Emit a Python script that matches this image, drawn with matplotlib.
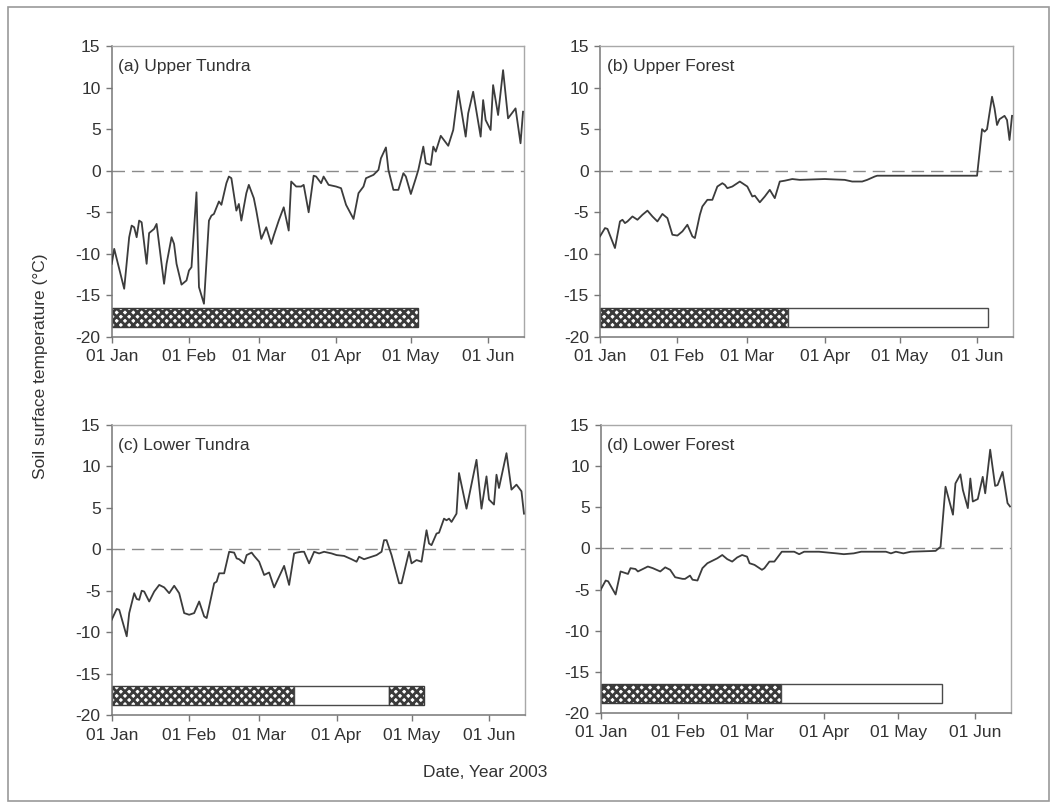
import numpy as np
import matplotlib
matplotlib.use("Agg")
import matplotlib.pyplot as plt
from matplotlib.patches import Rectangle

plt.rcParams['font.family'] = ['Liberation Sans', 'DejaVu Sans']
plt.rcParams['hatch.linewidth'] = 2.0
plt.rcParams['axes.unicode_minus'] = False

# days since 01 Jan 2003
month_days = [0, 31, 59, 90, 120, 151]
month_labels = ["01 Jan", "01 Feb", "01 Mar", "01 Apr", "01 May", "01 Jun"]

# (a) Upper Tundra
ut_day = [0, 1, 5, 7, 8, 9, 10, 11, 12, 14, 15, 17, 18, 21, 22, 24, 25, 26, 28, 30,
          31, 32, 34, 35, 37, 39, 40, 41, 43, 44, 46, 47, 48, 50, 51, 52, 54, 55, 57, 58,
          60, 62, 64, 65, 67, 69, 71, 72, 74, 76, 77, 79, 81, 82, 84, 85, 87, 90, 92, 94,
          97, 99, 101, 102, 105, 107, 108, 110, 111, 113, 115, 117, 118, 120, 122, 123, 125, 126, 128, 129,
          130, 132, 135, 137, 139, 142, 143, 145, 148, 149, 150, 152, 153, 155, 157, 159, 162, 164, 165]
ut_temp = [-11.2, -9.4, -14.2, -8.0, -6.6, -6.8, -8.0, -6.0, -6.2, -11.2, -7.5, -7.0, -6.4, -13.6, -11.2, -8.0, -8.8, -11.2, -13.7, -13.2,
           -12.0, -11.6, -2.6, -14.0, -16.0, -6.0, -5.4, -5.2, -3.7, -4.1, -1.5, -0.7, -0.9, -4.8, -4.0, -6.0, -2.7, -1.7, -3.3, -4.8,
           -8.2, -6.8, -8.8, -7.8, -6.0, -4.4, -7.2, -1.3, -1.9, -1.9, -1.7, -5.0, -0.6, -0.7, -1.5, -0.7, -1.7, -1.9, -2.1, -4.1,
           -5.8, -2.7, -1.9, -0.9, -0.5, 0.1, 1.5, 2.8, 0.1, -2.3, -2.3, -0.3, -0.7, -2.8, -0.9, 0.1, 2.9, 0.9, 0.7, 2.9,
           2.3, 4.2, 3.0, 4.9, 9.6, 4.1, 6.9, 9.5, 4.1, 8.5, 6.1, 4.9, 10.3, 6.7, 12.1, 6.3, 7.5, 3.3, 7.1]

# (b) Upper Forest
uf_day = [0, 2, 3, 6, 8, 9, 10, 11, 13, 15, 17, 19, 21, 23, 25, 27, 29, 31, 33, 35,
          37, 38, 40, 41, 43, 45, 47, 49, 50, 51, 53, 56, 58, 59, 61, 62, 64, 66, 68, 70,
          72, 74, 77, 80, 90, 98, 101, 105, 107, 110, 111, 130, 151, 153, 154, 155, 157, 158, 159, 160,
          162, 163, 164, 165]
uf_temp = [-7.9, -6.9, -7.0, -9.3, -6.1, -5.9, -6.3, -6.1, -5.5, -5.9, -5.3, -4.8, -5.5, -6.1, -5.2, -5.7, -7.7, -7.8, -7.3, -6.5,
           -7.9, -8.1, -5.3, -4.3, -3.5, -3.5, -1.9, -1.5, -1.7, -2.1, -1.9, -1.3, -1.7, -1.9, -3.1, -3.0, -3.8, -3.1, -2.3, -3.3,
           -1.3, -1.2, -1.0, -1.1, -1.0, -1.1, -1.3, -1.3, -1.1, -0.7, -0.6, -0.6, -0.6, 5.0, 4.7, 5.0, 8.9, 7.5, 5.5, 6.2,
           6.6, 6.1, 3.7, 6.6]

# (c) Lower Tundra
lt_day = [0, 2, 3, 6, 7, 9, 10, 11, 12, 13, 15, 17, 19, 21, 23, 25, 27, 29, 31, 33,
          35, 37, 38, 41, 42, 43, 45, 47, 49, 50, 51, 53, 54, 56, 57, 59, 61, 63, 65, 67,
          69, 71, 73, 74, 76, 77, 79, 81, 83, 85, 88, 90, 93, 96, 98, 99, 101, 103, 106, 108,
          109, 110, 112, 115, 116, 119, 120, 122, 124, 126, 127, 128, 130, 131, 133, 134, 135, 136, 138, 139,
          142, 146, 148, 150, 151, 153, 154, 155, 158, 160, 162, 164, 165]
lt_temp = [-8.5, -7.2, -7.3, -10.5, -7.7, -5.3, -6.0, -6.1, -5.0, -5.1, -6.3, -5.1, -4.3, -4.6, -5.3, -4.4, -5.3, -7.7, -7.9, -7.7,
           -6.3, -8.1, -8.3, -4.1, -3.9, -2.9, -2.9, -0.3, -0.4, -1.1, -1.2, -1.7, -0.7, -0.4, -0.8, -1.5, -3.1, -2.8, -4.6, -3.3,
           -2.0, -4.3, -0.5, -0.4, -0.3, -0.3, -1.7, -0.3, -0.5, -0.3, -0.5, -0.7, -0.8, -1.2, -1.5, -0.9, -1.2, -1.0, -0.7, -0.3,
           1.1, 1.1, -0.7, -4.1, -4.1, -0.3, -1.7, -1.3, -1.5, 2.3, 0.7, 0.5, 1.9, 2.0, 3.7, 3.5, 3.7, 3.3, 4.3, 9.2,
           4.9, 10.8, 4.9, 8.8, 6.0, 5.4, 9.0, 7.4, 11.6, 7.2, 7.8, 7.0, 4.3]

# (d) Lower Forest
lf_day = [0, 2, 3, 6, 8, 9, 11, 12, 14, 15, 17, 19, 21, 24, 26, 28, 30, 33, 34, 36,
          37, 39, 41, 43, 45, 47, 49, 51, 53, 55, 57, 59, 60, 62, 65, 66, 68, 70, 73, 75,
          78, 80, 82, 88, 95, 98, 102, 105, 115, 117, 119, 122, 125, 135, 137, 139, 142, 143, 145, 146,
          148, 149, 150, 152, 154, 155, 157, 159, 160, 162, 164, 165]
lf_temp = [-5.0, -3.9, -4.0, -5.6, -2.8, -2.9, -3.1, -2.4, -2.5, -2.8, -2.5, -2.2, -2.4, -2.8, -2.3, -2.6, -3.5, -3.7, -3.7, -3.3,
           -3.8, -3.9, -2.4, -1.8, -1.5, -1.2, -0.8, -1.3, -1.6, -1.1, -0.8, -1.0, -1.8, -2.0, -2.6, -2.4, -1.6, -1.6, -0.4, -0.4,
           -0.4, -0.7, -0.4, -0.4, -0.6, -0.7, -0.6, -0.4, -0.4, -0.6, -0.4, -0.6, -0.4, -0.3, 0.2, 7.5, 4.1, 7.9, 9.0, 7.1,
           4.9, 8.5, 5.7, 6.0, 8.7, 6.7, 12.0, 7.6, 7.7, 9.3, 5.5, 5.1]

# snow-cover bars: (start day, end day, hatched?)
ut_bars = [(0, 123, True)]
uf_bars = [(0, 75.4, True), (75.4, 155.4, False)]
lt_bars = [(0, 72.8, True), (72.8, 110.9, False), (110.9, 124.9, True)]
lf_bars = [(0, 72.7, True), (72.7, 137.5, False)]

panels = [
    ("(a) Upper Tundra", ut_day, ut_temp, ut_bars, [0.1059, 0.5819, 0.3908, 0.3610]),
    ("(b) Upper Forest", uf_day, uf_temp, uf_bars, [0.5687, 0.5819, 0.3915, 0.3610]),
    ("(c) Lower Tundra", lt_day, lt_temp, lt_bars, [0.1059, 0.1129, 0.3917, 0.3598]),
    ("(d) Lower Forest", lf_day, lf_temp, lf_bars, [0.5694, 0.1154, 0.3889, 0.3573]),
]

fig = plt.figure(figsize=(10.55, 8.06), dpi=100)
fig.patch.set_facecolor("white")

txt = "#333333"
for title, days, temps, bars, pos in panels:
    ax = fig.add_axes(pos)
    ax.axhline(0, color="#8a8a8a", lw=1.0, ls=(0, (9, 5)), zorder=1)
    ax.plot(days, temps, color="#3c3c3c", lw=1.3, zorder=3)
    for start, end, hatched in bars:
        if hatched:
            ax.barh(-17.65, end - start, left=start, height=2.3, color="white",
                    edgecolor="#3a3a3a", hatch="xxxx", lw=1.0, zorder=2)
        else:
            ax.barh(-17.65, end - start, left=start, height=2.3, color="white",
                    edgecolor="#4a4a4a", lw=1.0, zorder=2)
    ax.set_xlim(0, 165.4)
    ax.set_ylim(-20, 15)
    ax.set_yticks(range(-20, 16, 5))
    ax.set_xticks(month_days)
    ax.set_xticklabels(month_labels)
    ax.tick_params(direction="out", length=4, width=1, colors="#777777",
                   labelcolor=txt, labelsize=12.5)
    ax.tick_params(axis="x", pad=5)
    ax.tick_params(axis="y", pad=4)
    for side in ["left", "bottom"]:
        ax.spines[side].set_color("#777777")
        ax.spines[side].set_linewidth(1.1)
    for side in ["top", "right"]:
        ax.spines[side].set_color("#a8a8a8")
        ax.spines[side].set_linewidth(1.0)
    ax.text(0.016, 0.93, title, transform=ax.transAxes, ha="left", va="center",
            fontsize=12.5, color=txt)

fig.text(0.038, 0.546, "Soil surface temperature (\u00b0C)", rotation=90,
         ha="center", va="center", fontsize=12.5, color=txt)
fig.text(0.46, 0.041, "Date, Year 2003", ha="center", va="center",
         fontsize=12.5, color=txt)

fig.patches.append(Rectangle((0.008, 0.006), 0.986, 0.985, transform=fig.transFigure,
                             fill=False, edgecolor="#9a9a9a", lw=1.2))

fig.savefig("out.png", dpi=100)
